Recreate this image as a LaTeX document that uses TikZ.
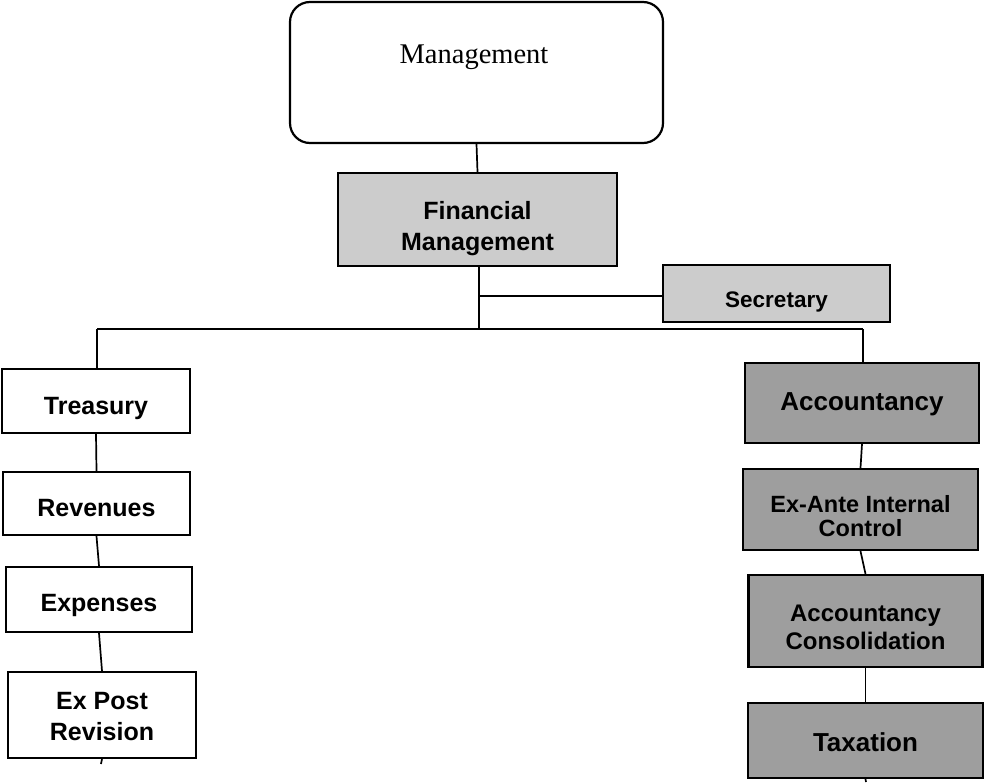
\documentclass[tikz,border=0pt]{standalone}
\usepackage{fontspec}
\setmainfont{Liberation Sans}
\newfontfamily\serifface{Liberation Serif}
\newcommand\dn[2]{\raisebox{-#1}[\height][\depth]{\begin{tabular}{@{}c@{}}#2\end{tabular}}}
\begin{document}
\begin{tikzpicture}[x=1pt,y=-1pt,
  box/.style={draw=black,line width=2.2pt,rectangle,inner sep=0pt,align=center,
    font=\fontsize{25}{27}\selectfont\bfseries},
  light/.style={box,fill=black!20},
  dark/.style={box,fill=black!38},
  plain/.style={box,fill=white},
  link/.style={draw=black,line width=1.7pt}]
\useasboundingbox (0,0) rectangle (985,782);
% top
\node[draw=black,line width=2.2pt,rounded corners=20pt,minimum width=373pt,minimum height=141pt,fill=white] (mgmt) at (476.5,72.5) {};
\node[font=\serifface\fontsize{28.5}{30}\selectfont] (mgmtlabel) at (474,57) {Management};
\node[light,minimum width=279pt,minimum height=93pt,font=\fontsize{25}{31}\selectfont\bfseries] (fm) at (477.5,219.5) {\dn{9pt}{Financial\\Management}};
\node[light,minimum width=227pt,minimum height=57pt,font=\fontsize{22.5}{24}\selectfont\bfseries] (sec) at (776.5,293.5) {\dn{9pt}{Secretary}};
% left column
\node[plain,minimum width=188pt,minimum height=64pt] (tre) at (96,401) {\dn{8pt}{Treasury}};
\node[plain,minimum width=187pt,minimum height=63pt] (rev) at (96.5,503.5) {\dn{8pt}{Revenues}};
\node[plain,minimum width=186pt,minimum height=65pt] (exp) at (99,599.5) {\dn{7pt}{Expenses}};
\node[plain,minimum width=188pt,minimum height=86pt,font=\fontsize{25}{31}\selectfont\bfseries] (post) at (102,715) {\dn{4pt}{Ex Post\\Revision}};
% right column
\node[dark,minimum width=234pt,minimum height=80pt,font=\fontsize{26}{27}\selectfont\bfseries] (acc) at (862,403) {\dn{2pt}{Accountancy}};
\node[dark,minimum width=235pt,minimum height=81pt,font=\fontsize{23.5}{24}\selectfont\bfseries] (ante) at (860.5,509.5) {\dn{10pt}{Ex-Ante Internal\\Control}};
\node[dark,minimum width=234pt,minimum height=92pt,font=\fontsize{24}{28}\selectfont\bfseries] (cons) at (865.5,621) {\dn{9pt}{Accountancy\\Consolidation}};
\node[dark,minimum width=235pt,minimum height=75pt,font=\fontsize{26}{27}\selectfont\bfseries] (tax) at (865.5,740.5) {\dn{6pt}{Taxation}};
% coordinates
\coordinate (busL) at (97,329);
\coordinate (busR) at (863,329);
\coordinate (busM) at (479,329);
\coordinate (secbr) at (479,296);
\coordinate (stubL) at (101,764);
\coordinate (stubR) at (866,782);
% connectors
\draw[link] (mgmt.south) -- (fm.north);
\draw[link] (fm.south -| busM) -- (busM);
\draw[link] (secbr) -- (secbr -| sec.west);
\draw[link] (busL) -- (busR);
\draw[link] (busL) -- (tre.north -| busL);
\draw[link] (busR) -- (acc.north -| busR);
\draw[link] (tre.south) -- (rev.north);
\draw[link] (rev.south) -- (exp.north);
\draw[link] (exp.south) -- (post.north);
\draw[link] (post.south) -- (stubL);
\draw[link] (acc.south) -- (ante.north);
\draw[link] (ante.south) -- (cons.north);
\draw[link] (cons.south) -- (tax.north);
\draw[link] (tax.south) -- (stubR);
\end{tikzpicture}
\end{document}
